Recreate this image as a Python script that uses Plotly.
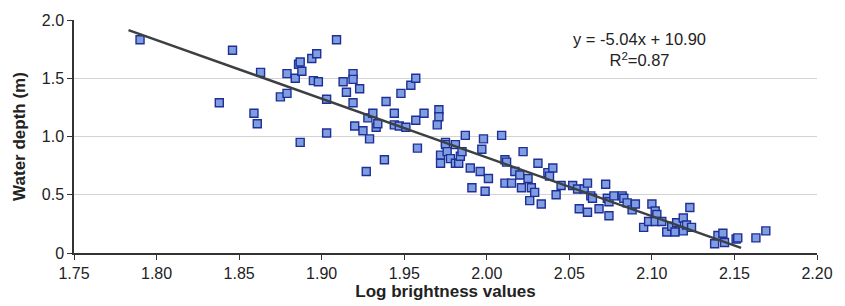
import plotly.graph_objects as go

log_brightness = [
    1.790, 1.846, 1.838, 1.863, 1.859, 1.861, 1.875, 1.879, 1.879, 1.884,
    1.886, 1.887, 1.888, 1.887, 1.894, 1.895, 1.897, 1.898, 1.909, 1.903,
    1.903, 1.913, 1.919, 1.919, 1.915, 1.923, 1.919, 1.920, 1.925, 1.929,
    1.927, 1.928, 1.931, 1.933, 1.934, 1.939, 1.938, 1.944, 1.944, 1.947,
    1.951, 1.948, 1.954, 1.957, 1.957, 1.962, 1.958, 1.971, 1.971, 1.970,
    1.975, 1.975, 1.972, 1.972, 1.976, 1.978, 1.981, 1.981, 1.983, 1.984,
    1.985, 1.987, 1.990, 1.991, 1.996, 1.997, 1.998, 1.999, 2.001, 2.009,
    2.011, 2.012, 2.011, 2.015, 2.017, 2.020, 2.022, 2.021, 2.025, 2.027,
    2.026, 2.029, 2.033, 2.031, 2.037, 2.038, 2.040, 2.042, 2.045, 2.052,
    2.055, 2.059, 2.061, 2.063, 2.064, 2.056, 2.061, 2.068, 2.072, 2.073,
    2.074, 2.074, 2.077, 2.082, 2.083, 2.085, 2.088, 2.090, 2.100, 2.102,
    2.103, 2.095, 2.098, 2.102, 2.106, 2.109, 2.112, 2.114, 2.115, 2.119,
    2.119, 2.121, 2.124, 2.123, 2.138, 2.140, 2.143, 2.144, 2.151, 2.152,
    2.163, 2.169,
]
water_depth = [
    1.83, 1.74, 1.29, 1.55, 1.20, 1.11, 1.34, 1.37, 1.54, 1.50,
    1.62, 1.64, 1.56, 0.95, 1.67, 1.48, 1.71, 1.47, 1.83, 1.32,
    1.03, 1.47, 1.54, 1.49, 1.38, 1.41, 1.29, 1.09, 1.05, 0.98,
    0.70, 1.16, 1.20, 1.08, 1.11, 1.30, 0.80, 1.20, 1.10, 1.09,
    1.08, 1.37, 1.44, 1.50, 1.14, 1.20, 0.90, 1.23, 1.17, 1.10,
    0.95, 0.93, 0.84, 0.77, 0.87, 0.81, 0.93, 0.77, 0.77, 0.83,
    0.87, 1.01, 0.73, 0.56, 0.70, 0.89, 0.98, 0.53, 0.64, 1.01,
    0.80, 0.78, 0.60, 0.60, 0.70, 0.67, 0.87, 0.56, 0.64, 0.56,
    0.45, 0.52, 0.42, 0.77, 0.69, 0.66, 0.73, 0.50, 0.58, 0.58,
    0.55, 0.55, 0.60, 0.49, 0.47, 0.38, 0.35, 0.38, 0.59, 0.47,
    0.44, 0.32, 0.49, 0.49, 0.47, 0.43, 0.37, 0.42, 0.42, 0.36,
    0.33, 0.22, 0.27, 0.27, 0.27, 0.18, 0.23, 0.18, 0.26, 0.30,
    0.19, 0.24, 0.22, 0.39, 0.08, 0.15, 0.17, 0.09, 0.12, 0.13,
    0.13, 0.19,
]

slope = -5.04
intercept = 10.90
r_squared = 0.87
trend_x = [1.783, 2.154]
trend_y = [slope * v + intercept for v in trend_x]

x_ticks = [1.75, 1.80, 1.85, 1.90, 1.95, 2.00, 2.05, 2.10, 2.15, 2.20]
x_tick_labels = ["1.75", "1.80", "1.85", "1.90", "1.95", "2.00", "2.05", "2.10", "2.15", "2.20"]
y_ticks = [0, 0.5, 1.0, 1.5, 2.0]
y_tick_labels = ["0", "0.5", "1.0", "1.5", "2.0"]

font_family = "Liberation Sans, Arial, sans-serif"

fig = go.Figure()
fig.add_trace(go.Scatter(
    x=log_brightness, y=water_depth, mode="markers",
    marker=dict(symbol="square", size=8, color="#7f9ee2",
                line=dict(color="#1f2f96", width=1.4)),
    showlegend=False, hoverinfo="x+y",
))
fig.add_trace(go.Scatter(
    x=trend_x, y=trend_y, mode="lines",
    line=dict(color="#3c4042", width=2.5),
    showlegend=False, hoverinfo="skip",
))

fig.add_annotation(
    x=2.0927, y=1.745, xref="x", yref="y", showarrow=False,
    text=f"y = {slope:.2f}x + {intercept:.2f}<br>R<sup>2</sup>={r_squared:.2f}",
    font=dict(family=font_family, size=16.5, color="#222222"),
    align="center", yanchor="middle",
)

fig.update_layout(
    width=845, height=306,
    margin=dict(l=74, r=19, t=15, b=52),
    paper_bgcolor="white", plot_bgcolor="white",
    font=dict(family=font_family, size=16, color="#222222"),
)
fig.update_xaxes(
    range=[1.75, 2.20], tickvals=x_ticks, ticktext=x_tick_labels,
    showgrid=False, zeroline=False,
    showline=True, linecolor="#333333", linewidth=1.5,
    ticks="outside", ticklen=5, tickcolor="#333333",
    tickfont=dict(size=16, color="#222222"),
    title=dict(text="<b>Log brightness values</b>", font=dict(size=17, color="#222222"), standoff=0),
)
fig.update_yaxes(
    range=[0, 2.0], tickvals=y_ticks, ticktext=y_tick_labels,
    showgrid=True, gridcolor="#d3d3d3", gridwidth=1.2,
    zeroline=False,
    showline=True, linecolor="#333333", linewidth=1.5,
    ticks="outside", ticklen=5, tickcolor="#333333",
    tickfont=dict(size=16, color="#222222"),
    title=dict(text="<b>Water depth (m)</b>", font=dict(size=17, color="#222222"), standoff=12),
)

fig.write_html(
    "out.html",
    config={"displayModeBar": False},
    post_script="document.body.style.margin='0';document.body.style.overflow='hidden';",
)
